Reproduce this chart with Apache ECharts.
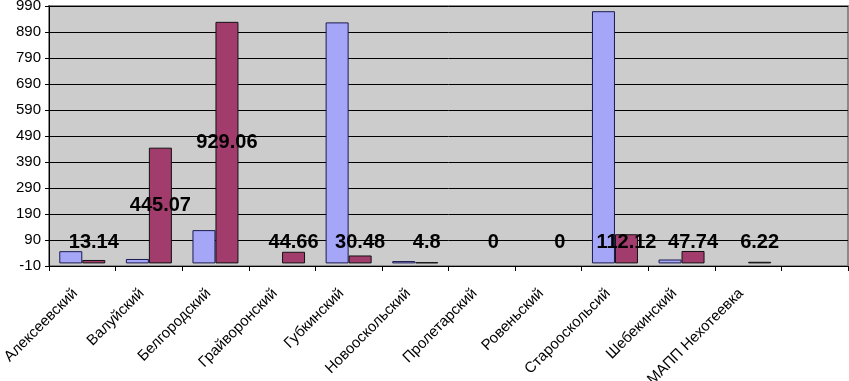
<!DOCTYPE html>
<html>
<head>
<meta charset="utf-8">
<script src="https://cdn.jsdelivr.net/npm/echarts@6/dist/echarts.min.js"></script>
<style>
    html, body { margin: 0; padding: 0; background: #fff; }
    #bar_chart_content { width: 849px; height: 381px; }
</style>
</head>
<body>
<div id="bar_chart_content"></div>
<script>
// районы
var categories = ["Алексеевский", "Валуйский", "Белгородский", "Грайворонский", "Губкинский", "Новооскольский",
    "Пролетарский", "Ровеньский", "Старооскольсий", "Шебекинский", "МАПП Нехотеевка", ""];
// первый ряд (без подписей)
var series_first = [47, 17, 128, 0, 927, 9, 0, 0, 970, 15, 0, null];
// второй ряд (с подписями)
var series_second = [13.14, 445.07, 929.06, 44.66, 30.48, 4.8, 0, 0, 112.12, 47.74, 6.22, null];
var y_min = -10, y_max = 990, y_step = 100;

var font = "'Liberation Sans', Arial, sans-serif";

// нулевые столбцы без рамки
function to_items(arr){
    var res = [];
    for(var i = 0; i < arr.length; i++){
        if(arr[i] === 0){
            res.push({ value: 0, itemStyle: { borderWidth: 0 } });
        } else {
            res.push(arr[i]);
        }
    }
    return res;
}

var bar_chart = echarts.init(document.getElementById("bar_chart_content"));
var bar_option = {
    animation: false,
    grid: {
        show: true,
        left: 49,
        right: 1,
        top: 6,
        bottom: 115,
        containLabel: false,
        outerBoundsMode: 'none',
        backgroundColor: '#cccccc',
        borderColor: '#8a8a8a',
        borderWidth: 2
    },
    xAxis: {
        type: 'category',
        data: categories,
        axisLine: { onZero: false, lineStyle: { color: '#000', width: 1 } },
        axisTick: { show: true, length: 5, lineStyle: { color: '#000' } },
        axisLabel: {
            interval: 0,
            rotate: 45,
            margin: 18,
            padding: [0, 10, 0, 0],
            color: '#000',
            fontSize: 15,
            fontFamily: font
        },
        splitLine: { show: false }
    },
    yAxis: {
        type: 'value',
        min: y_min,
        max: y_max,
        interval: y_step,
        axisLine: { show: true, lineStyle: { color: '#000', width: 1 } },
        axisTick: { show: true, length: 4, lineStyle: { color: '#000' } },
        axisLabel: {
            margin: 8,
            color: '#000',
            fontSize: 15,
            fontFamily: font
        },
        splitLine: { show: true, lineStyle: { color: '#000', width: 1 } }
    },
    series: [
        {
            type: 'bar',
            data: to_items(series_first),
            barWidth: 23,
            barGap: '0%',
            itemStyle: { color: '#a6a6f8', borderColor: '#1a1a50', borderWidth: 1 }
        },
        {
            type: 'bar',
            data: to_items(series_second),
            barWidth: 23,
            barGap: '0%',
            itemStyle: { color: '#a23c6c', borderColor: '#111', borderWidth: 1 },
            label: {
                show: true,
                position: 'inside',
                color: '#000',
                fontSize: 20,
                fontWeight: 'bold',
                fontFamily: font,
                textBorderWidth: 0
            },
            labelLayout: function (params) {
                // подпись в центре столбца, но не ниже уровня у оси
                var r = params.rect;
                var base = r.y + r.height;
                return {
                    x: r.x + r.width / 2,
                    y: Math.min(r.y + r.height / 2, base - 21),
                    align: 'center',
                    verticalAlign: 'middle'
                };
            }
        }
    ]
};
bar_chart.setOption(bar_option, true);
</script>
</body>
</html>
